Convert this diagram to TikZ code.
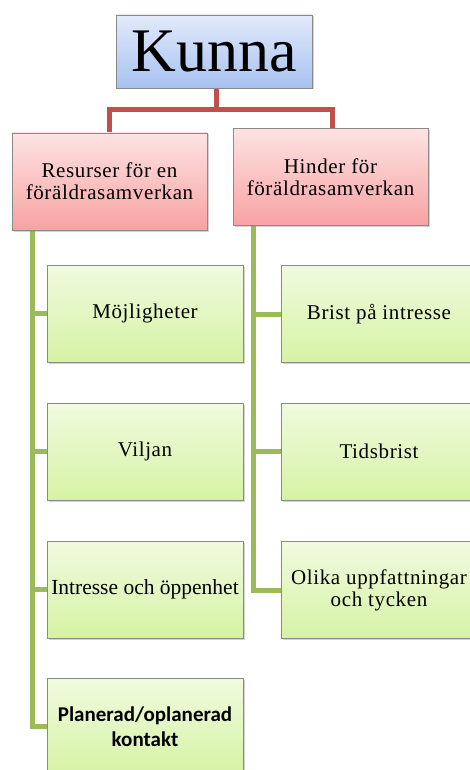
\documentclass[tikz,border=0pt]{standalone}
\usepackage{fontspec}
\setmainfont{Liberation Serif}
\newfontfamily\calib{Carlito}
\newfontfamily\spacedserif[LetterSpace=3]{Liberation Serif}
\usetikzlibrary{shadows}
\pgfdeclarelayer{bg}
\pgfsetlayers{bg,main}
\definecolor{bordergray}{HTML}{8A8A8A}
\definecolor{redline}{HTML}{C0504D}
\definecolor{greenline}{HTML}{9BBB59}
\definecolor{bluetop}{HTML}{E2EAFB}
\definecolor{bluebot}{HTML}{A7C2F1}
\definecolor{redtop}{HTML}{FDE3E3}
\definecolor{redbot}{HTML}{F8A2A2}
\definecolor{greentop}{HTML}{F1FADF}
\definecolor{greenbot}{HTML}{D5F3A4}
\tikzset{
  boxbase/.style={draw=bordergray, line width=0.8pt, inner sep=2pt, align=center,
    drop shadow={shadow xshift=1.5pt, shadow yshift=-1.5pt, opacity=0.35}},
  topbox/.style={boxbase, top color=bluetop, bottom color=bluebot,
    minimum width=196pt, minimum height=73pt, font=\fontsize{62}{66}\selectfont},
  midbox/.style={boxbase, top color=redtop, bottom color=redbot,
    minimum width=195pt, minimum height=97pt, font=\spacedserif\fontsize{21}{22}\selectfont},
  leafbox/.style={boxbase, top color=greentop, bottom color=greenbot,
    minimum width=196pt, minimum height=97pt, font=\spacedserif\fontsize{21}{22}\selectfont},
  redconn/.style={draw=redline, line width=5pt, line join=miter},
  greenconn/.style={draw=greenline, line width=5pt, line join=miter},
}
\begin{document}
\begin{tikzpicture}[x=1pt,y=-1pt]
\useasboundingbox (0,0) rectangle (470,770);
\clip (0,0) rectangle (470,770);
% nodes
\node[topbox] (kunna) at (214,51.5) {Kunna};
\node[midbox] (res) at (109.5,181.5) {Resurser för en\\föräldrasamverkan};
\node[midbox] (hin) at (330.5,177) {Hinder för\\föräldrasamverkan};
\node[leafbox] (moj) at (145,313.5) {Möjligheter};
\node[leafbox] (vil) at (145,451.5) {Viljan};
\node[leafbox, font=\fontsize{21.5}{22}\selectfont] (int) at (145,589.5) {Intresse och öppenhet};
\node[leafbox, font=\calib\bfseries\fontsize{21}{25}\selectfont] (pla) at (145,726.5) {Planerad/oplanerad\\kontakt};
\node[leafbox] (bri) at (379,314) {Brist på intresse};
\node[leafbox] (tid) at (379,451.5) {Tidsbrist};
\node[leafbox] (oli) at (379,590) {Olika uppfattningar\\och tycken};
% connector coordinates
\coordinate (kout) at (216,88);
\coordinate (kjoin) at (216,110);
\coordinate (rin) at (109,133);
\coordinate (hinn) at (332,128);
\coordinate (lspine) at (32,230);
\coordinate (rspine) at (253,226);
\begin{pgfonlayer}{bg}
% red connectors
\draw[redconn] (kout) -- (kjoin);
\draw[redconn] (kjoin) -| (rin);
\draw[redconn] (kjoin) -| (hinn);
% green connectors
\draw[greenconn] (lspine) |- (pla.west);
\draw[greenconn] (lspine |- moj.west) -- (moj.west);
\draw[greenconn] (lspine |- vil.west) -- (vil.west);
\draw[greenconn] (lspine |- int.west) -- (int.west);
\draw[greenconn] (rspine) |- (oli.west);
\draw[greenconn] (rspine |- bri.west) -- (bri.west);
\draw[greenconn] (rspine |- tid.west) -- (tid.west);
\end{pgfonlayer}
\end{tikzpicture}
\end{document}
